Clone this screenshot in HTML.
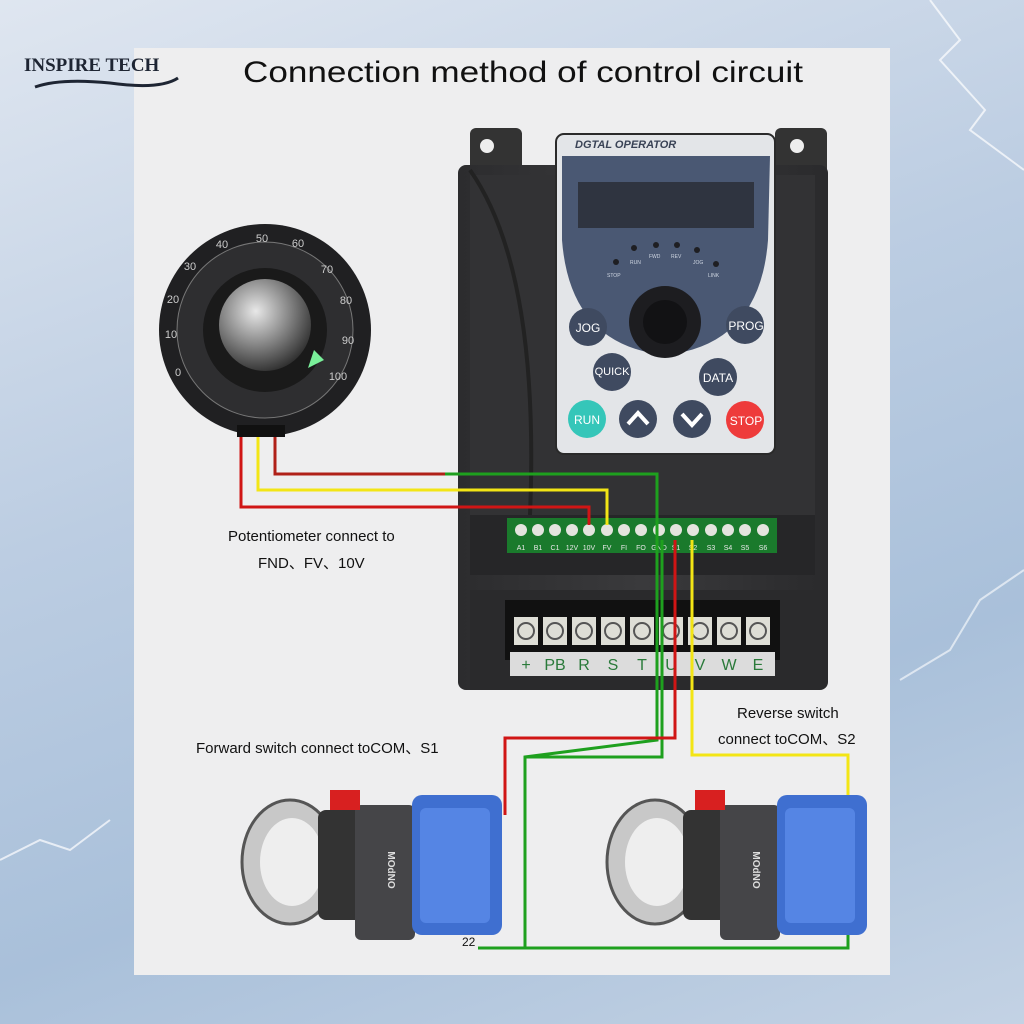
<!DOCTYPE html>
<html><head><meta charset="utf-8"><style>
html,body{margin:0;padding:0;width:1024px;height:1024px;overflow:hidden}
body{background:linear-gradient(160deg,#dfe6f0 0%,#bccde2 40%,#a9c0da 70%,#c3d2e4 100%);font-family:"Liberation Sans",sans-serif}
svg{position:absolute;left:0;top:0}
</style></head><body>
<svg width="1024" height="1024" viewBox="0 0 1024 1024" font-family="Liberation Sans, sans-serif">
<defs>
<radialGradient id="knob" cx="40%" cy="35%" r="70%"><stop offset="0" stop-color="#e8e8e8"/><stop offset="0.5" stop-color="#8a8a8a"/><stop offset="1" stop-color="#2a2a2a"/></radialGradient>
<linearGradient id="body" x1="0" x2="1"><stop offset="0" stop-color="#2c2c2e"/><stop offset="0.5" stop-color="#3a3a3c"/><stop offset="1" stop-color="#2a2a2c"/></linearGradient>
</defs>
<path d="M930 0 L960 40 L940 60 L985 110 L970 130 L1024 170" stroke="#fff" stroke-width="2" fill="none" opacity="0.7"/>
<path d="M0 860 L40 840 L70 850 L110 820" stroke="#fff" stroke-width="2" fill="none" opacity="0.7"/>
<path d="M900 680 L950 650 L980 600 L1024 570" stroke="#fff" stroke-width="2" fill="none" opacity="0.6"/>
<rect x="134" y="48" width="756" height="927" fill="#eeeeef"/>
<text x="24" y="71" font-family="Liberation Serif, serif" font-weight="bold" font-size="19" fill="#1e2533">INSPIRE TECH</text>
<path d="M35 87 Q60 78 110 83 Q160 90 178 78" stroke="#1e2533" stroke-width="3" fill="none"/>
<text x="243" y="82" font-size="30" fill="#111" textLength="560" lengthAdjust="spacingAndGlyphs">Connection method of control  circuit</text>
<rect x="470" y="128" width="52" height="48" rx="6" fill="#333"/>
<rect x="775" y="128" width="52" height="48" rx="6" fill="#333"/>
<circle cx="487" cy="146" r="7" fill="#eee"/><circle cx="797" cy="146" r="7" fill="#eee"/>
<rect x="458" y="165" width="370" height="525" rx="8" fill="url(#body)"/>
<rect x="470" y="175" width="345" height="340" fill="#323234"/>
<path d="M470 170 Q540 270 530 515" stroke="#222" stroke-width="4" fill="none"/>
<rect x="556" y="134" width="219" height="320" rx="8" fill="#e3e5e8" stroke="#2a2a2a" stroke-width="2"/>
<text x="575" y="148" font-size="11" font-weight="bold" font-style="italic" fill="#3a4356">DGTAL OPERATOR</text>
<path d="M562 156 L770 156 L768 240 Q760 345 665 355 Q570 345 562 240 Z" fill="#4a5873"/>
<rect x="578" y="182" width="176" height="46" fill="#2f3440"/>
<g fill="#1e1e22"><circle cx="634" cy="248" r="3"/><circle cx="656" cy="245" r="3"/><circle cx="677" cy="245" r="3"/><circle cx="697" cy="250" r="3"/><circle cx="616" cy="262" r="3"/><circle cx="716" cy="264" r="3"/></g>
<g font-size="5" fill="#cfd6e2"><text x="630" y="264">RUN</text><text x="649" y="258">FWD</text><text x="671" y="258">REV</text><text x="693" y="264">JOG</text><text x="607" y="277">STOP</text><text x="708" y="277">LINK</text></g>
<circle cx="665" cy="322" r="36" fill="#1d1d20"/>
<circle cx="665" cy="322" r="22" fill="#121214"/>
<g fill="#3f4a60"><circle cx="588" cy="327" r="19"/><circle cx="745" cy="325" r="19"/><circle cx="612" cy="372" r="19"/><circle cx="718" cy="377" r="19"/><circle cx="638" cy="419" r="19"/><circle cx="692" cy="419" r="19"/></g>
<circle cx="587" cy="419" r="19" fill="#35c6b9"/><circle cx="745" cy="420" r="19" fill="#ee3b3b"/>
<g fill="#fff" font-size="12" text-anchor="middle"><text x="588" y="332">JOG</text><text x="746" y="330">PROG</text><text x="612" y="375" font-size="11">QUICK</text><text x="718" y="382">DATA</text><text x="587" y="424">RUN</text><text x="746" y="425">STOP</text></g>
<path d="M628 424 L638 413 L648 424" stroke="#fff" stroke-width="4" fill="none"/>
<path d="M682 414 L692 425 L702 414" stroke="#fff" stroke-width="4" fill="none"/>
<rect x="470" y="515" width="345" height="60" fill="#262628"/>
<rect x="507" y="518" width="270" height="35" fill="#1a7a2c"/>
<g fill="#e4e4de">
<circle cx="521" cy="530" r="6"/><circle cx="538" cy="530" r="6"/><circle cx="555" cy="530" r="6"/><circle cx="572" cy="530" r="6"/><circle cx="589" cy="530" r="6"/><circle cx="607" cy="530" r="6"/><circle cx="624" cy="530" r="6"/><circle cx="641" cy="530" r="6"/><circle cx="659" cy="530" r="6"/><circle cx="676" cy="530" r="6"/><circle cx="693" cy="530" r="6"/><circle cx="711" cy="530" r="6"/><circle cx="728" cy="530" r="6"/><circle cx="745" cy="530" r="6"/><circle cx="763" cy="530" r="6"/>
</g>
<g fill="#e8e8e8" font-size="7" text-anchor="middle"><text x="521" y="550">A1</text><text x="538" y="550">B1</text><text x="555" y="550">C1</text><text x="572" y="550">12V</text><text x="589" y="550">10V</text><text x="607" y="550">FV</text><text x="624" y="550">FI</text><text x="641" y="550">FO</text><text x="659" y="550">GND</text><text x="676" y="550">S1</text><text x="693" y="550">S2</text><text x="711" y="550">S3</text><text x="728" y="550">S4</text><text x="745" y="550">S5</text><text x="763" y="550">S6</text></g>
<rect x="470" y="590" width="350" height="100" fill="#2a2a2c"/>
<rect x="505" y="600" width="275" height="60" fill="#111"/>
<g fill="#deded6">
<rect x="514" y="617" width="24" height="28"/><rect x="543" y="617" width="24" height="28"/><rect x="572" y="617" width="24" height="28"/><rect x="601" y="617" width="24" height="28"/><rect x="630" y="617" width="24" height="28"/><rect x="659" y="617" width="24" height="28"/><rect x="688" y="617" width="24" height="28"/><rect x="717" y="617" width="24" height="28"/><rect x="746" y="617" width="24" height="28"/>
</g>
<g fill="none" stroke="#555" stroke-width="2">
<circle cx="526" cy="631" r="8"/><circle cx="555" cy="631" r="8"/><circle cx="584" cy="631" r="8"/><circle cx="613" cy="631" r="8"/><circle cx="642" cy="631" r="8"/><circle cx="671" cy="631" r="8"/><circle cx="700" cy="631" r="8"/><circle cx="729" cy="631" r="8"/><circle cx="758" cy="631" r="8"/>
</g>
<rect x="510" y="652" width="265" height="24" fill="#dcdcdc"/>
<g fill="#2a7a3a" font-size="16" text-anchor="middle"><text x="526" y="670">+</text><text x="555" y="670">PB</text><text x="584" y="670">R</text><text x="613" y="670">S</text><text x="642" y="670">T</text><text x="671" y="670">U</text><text x="700" y="670">V</text><text x="729" y="670">W</text><text x="758" y="670">E</text></g>
<circle cx="265" cy="330" r="106" fill="#202022"/>
<circle cx="265" cy="330" r="88" fill="#2e2e30" stroke="#777" stroke-width="1"/>
<circle cx="265" cy="330" r="62" fill="#1a1a1a"/>
<circle cx="265" cy="325" r="46" fill="url(#knob)"/>
<path d="M308 368 L324 360 L314 350 Z" fill="#7af09a"/>
<g fill="#ccc" font-size="11" text-anchor="middle"><text x="222" y="248">40</text><text x="262" y="242">50</text><text x="298" y="247">60</text><text x="327" y="273">70</text><text x="346" y="304">80</text><text x="348" y="344">90</text><text x="338" y="380">100</text><text x="190" y="270">30</text><text x="173" y="303">20</text><text x="171" y="338">10</text><text x="178" y="376">0</text></g>
<rect x="237" y="425" width="48" height="12" fill="#111"/>
<g fill="none" stroke-width="3">
<polyline points="241,437 241,507 589,507 589,525" stroke="#d01515"/>
<polyline points="258,437 258,490 607,490 607,525" stroke="#f3e515"/>
<polyline points="275,437 275,474 445,474" stroke="#b02018"/>
<polyline points="445,474 657,474 657,740 525,757 525,948 848,948 848,920" stroke="#1ea01e"/>
<polyline points="662,540 662,757 525,757" stroke="#1ea01e"/>
<polyline points="478,948 525,948" stroke="#1ea01e"/>
<polyline points="675,540 675,738 505,738 505,815" stroke="#d01515"/>
<polyline points="692,540 692,755 848,755 848,800" stroke="#f3e515"/>
</g>
<g font-size="15" fill="#111">
<text x="228" y="541">Potentiometer  connect to</text>
<text x="258" y="568">FND、FV、10V</text>
<text x="196" y="753">Forward switch connect toCOM、S1</text>
<text x="737" y="718">Reverse switch</text>
<text x="718" y="744">connect toCOM、S2</text>
<text x="462" y="946" font-size="12">22</text>
</g>
<g id="sw">
<ellipse cx="290" cy="862" rx="48" ry="62" fill="#c8c8c8" stroke="#555" stroke-width="3"/>
<ellipse cx="292" cy="862" rx="32" ry="44" fill="#eee"/>
<rect x="318" y="810" width="48" height="110" rx="8" fill="#333"/>
<rect x="355" y="805" width="60" height="135" rx="6" fill="#454548"/>
<text x="388" y="870" font-size="10" fill="#ddd" font-weight="bold" transform="rotate(90 388 870)" text-anchor="middle">MOdNO</text>
<rect x="412" y="795" width="90" height="140" rx="10" fill="#3f6fd0"/>
<rect x="420" y="808" width="70" height="115" rx="6" fill="#5b8be8" opacity="0.8"/>
<rect x="330" y="790" width="30" height="20" fill="#d82020"/>
</g>
<use href="#sw" transform="translate(365 0)"/>
</svg>
</body></html>
